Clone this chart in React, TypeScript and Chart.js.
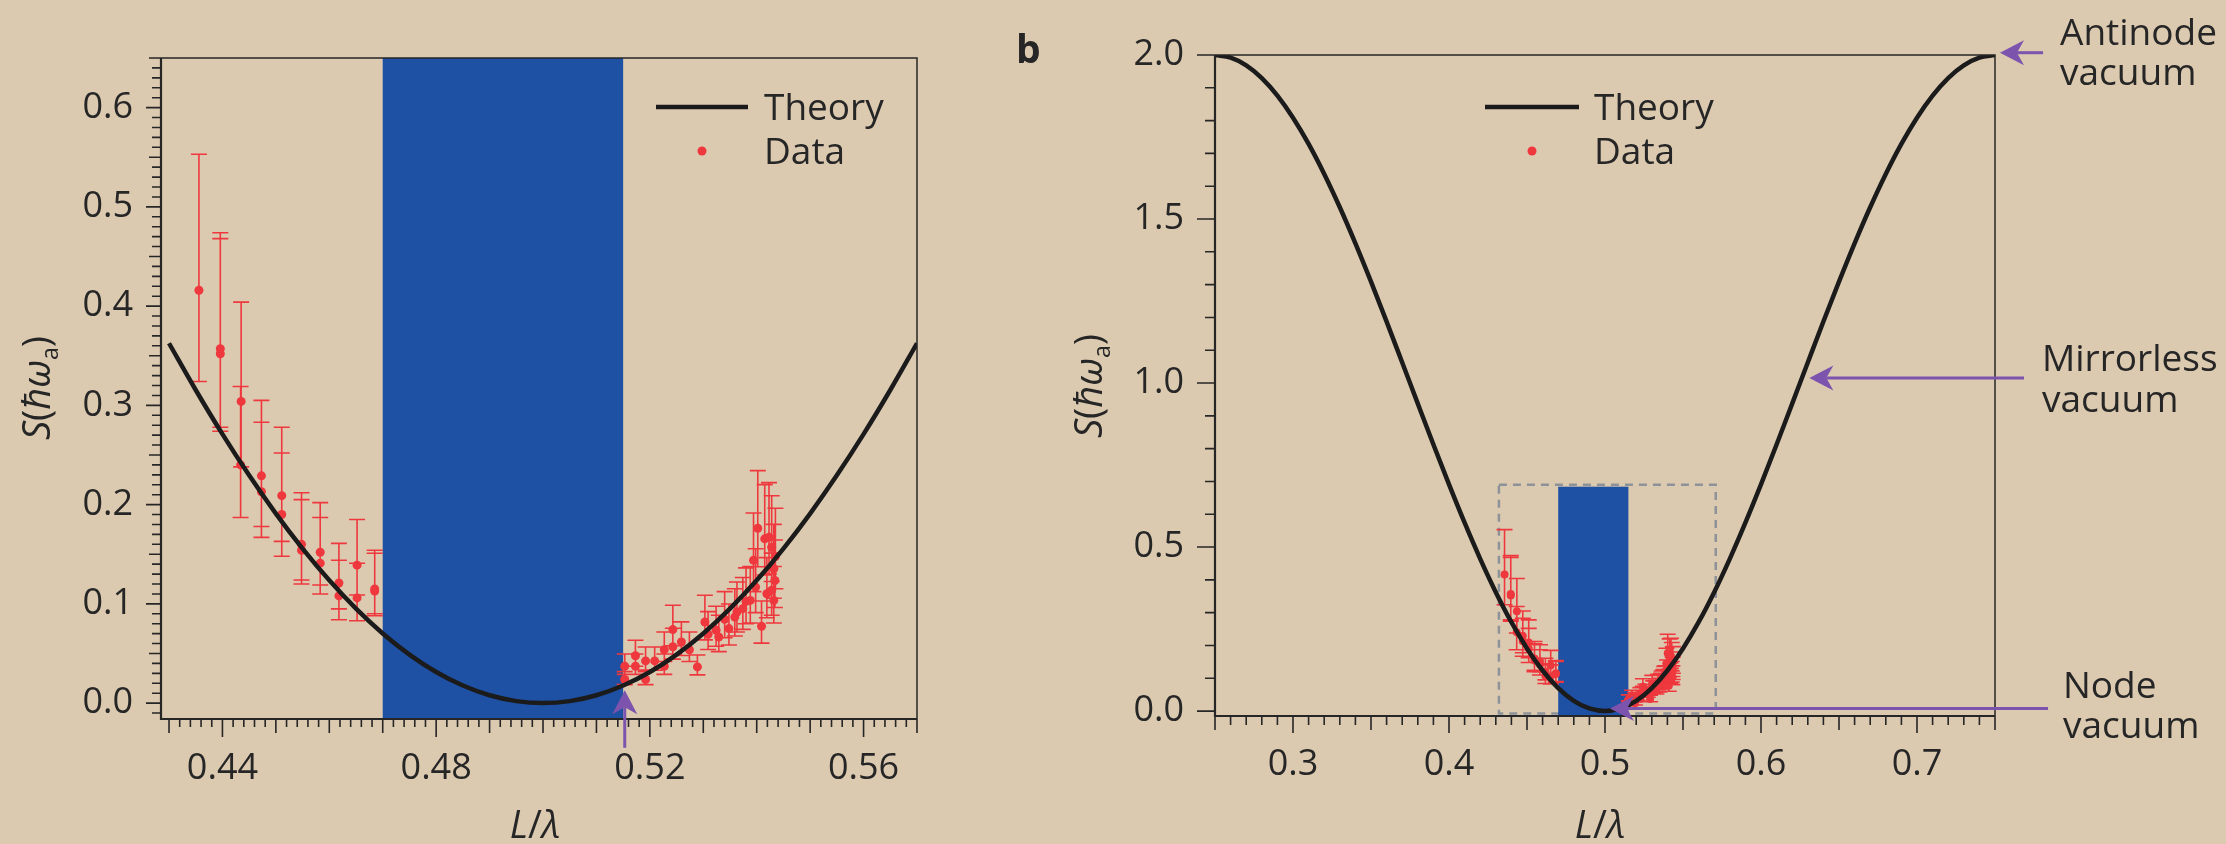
import React, { useEffect, useRef } from "react";
import { Chart, registerables } from "chart.js";

Chart.register(...registerables);

const FONT = '"Open Sans", "Noto Sans", "DejaVu Sans", sans-serif';
const BG = "#dccab0";
const INK = "#262626";
const RED = "#ee383e";
const BLUE = "#1e50a3";
const PURPLE = "#7c53ad";
const DASH_GREY = "#8d9298";

// ---------- axes ----------
const A_X_RANGE = [0.4285, 0.57];
const A_Y_RANGE = [-0.016, 0.65];
const A_X_TICKS = [0.44, 0.48, 0.52, 0.56];
const A_Y_TICKS = [0.0, 0.1, 0.2, 0.3, 0.4, 0.5, 0.6];
const B_X_RANGE = [0.25, 0.75];
const B_Y_RANGE = [-0.015, 2.0];
const B_X_TICKS = [0.3, 0.4, 0.5, 0.6, 0.7];
const B_Y_TICKS = [0.0, 0.5, 1.0, 1.5, 2.0];

// ---------- theory curve ----------
const THEORY_A_X = [0.43, 0.435, 0.44, 0.445, 0.45, 0.455, 0.46, 0.465, 0.47, 0.475, 0.48, 0.485, 0.49, 0.495, 0.5, 0.505, 0.51, 0.515, 0.52, 0.525, 0.53, 0.535, 0.54, 0.545, 0.55, 0.555, 0.56, 0.565, 0.57];
const THEORY_A_Y = [0.3626, 0.3155, 0.271, 0.2295, 0.191, 0.1557, 0.1237, 0.0952, 0.0702, 0.0489, 0.0314, 0.0177, 0.0079, 0.002, 0.0, 0.002, 0.0079, 0.0177, 0.0314, 0.0489, 0.0702, 0.0952, 0.1237, 0.1557, 0.191, 0.2295, 0.271, 0.3155, 0.3626];
const THEORY_B_X = [0.25, 0.26, 0.27, 0.28, 0.29, 0.3, 0.31, 0.32, 0.33, 0.34, 0.35, 0.36, 0.37, 0.38, 0.39, 0.4, 0.41, 0.42, 0.43, 0.44, 0.45, 0.46, 0.47, 0.48, 0.49, 0.5, 0.51, 0.52, 0.53, 0.54, 0.55, 0.56, 0.57, 0.58, 0.59, 0.6, 0.61, 0.62, 0.63, 0.64, 0.65, 0.66, 0.67, 0.68, 0.69, 0.7, 0.71, 0.72, 0.73, 0.74, 0.75];
const THEORY_B_Y = [2.0, 1.9921, 1.9686, 1.9298, 1.8763, 1.809, 1.729, 1.6374, 1.5358, 1.4258, 1.309, 1.1874, 1.0628, 0.9372, 0.8126, 0.691, 0.5742, 0.4642, 0.3626, 0.271, 0.191, 0.1237, 0.0702, 0.0314, 0.0079, 0.0, 0.0079, 0.0314, 0.0702, 0.1237, 0.191, 0.271, 0.3626, 0.4642, 0.5742, 0.691, 0.8126, 0.9372, 1.0628, 1.1874, 1.309, 1.4258, 1.5358, 1.6374, 1.729, 1.809, 1.8763, 1.9298, 1.9686, 1.9921, 2.0];

// ---------- measured data (value, upper and lower error-bar ends) ----------
const DATA_X = [0.4356, 0.4396, 0.4396, 0.4435, 0.4434, 0.4473, 0.4473, 0.4511, 0.4511, 0.4548, 0.4548, 0.4583, 0.4583, 0.4618, 0.4618, 0.4652, 0.4652, 0.4685, 0.4685,
  0.5153, 0.5153, 0.5173, 0.5173, 0.5192, 0.5192, 0.5209, 0.5227, 0.5227, 0.5243, 0.5243, 0.5259, 0.5274, 0.5289, 0.5303, 0.5309, 0.5324, 0.5329, 0.534, 0.5348, 0.5359, 0.5363, 0.5374, 0.538, 0.5388, 0.5394, 0.5398, 0.5402, 0.5409, 0.5415, 0.5423, 0.5419, 0.5428, 0.5432, 0.5434, 0.5428, 0.5435, 0.5432];
const DATA_Y = [0.416, 0.357, 0.352, 0.304, 0.24, 0.229, 0.213, 0.209, 0.19, 0.16, 0.154, 0.152, 0.141, 0.121, 0.108, 0.139, 0.106, 0.115, 0.113,
  0.0372, 0.0238, 0.0477, 0.0372, 0.0425, 0.0238, 0.0425, 0.0538, 0.0372, 0.0741, 0.0568, 0.0616, 0.0538, 0.0365, 0.0817, 0.0693, 0.0734, 0.0666, 0.0844, 0.0751, 0.0867, 0.0918, 0.0952, 0.1025, 0.1035, 0.144, 0.1169, 0.1762, 0.0774, 0.1655, 0.1671, 0.1102, 0.1571, 0.1354, 0.1236, 0.1136, 0.1477, 0.1035];
const DATA_HI = [0.553, 0.474, 0.468, 0.404, 0.319, 0.305, 0.283, 0.278, 0.252, 0.212, 0.205, 0.202, 0.187, 0.161, 0.144, 0.185, 0.141, 0.154, 0.151,
  0.0495, 0.0317, 0.0634, 0.0495, 0.0565, 0.0317, 0.0565, 0.0716, 0.0495, 0.0986, 0.0755, 0.0819, 0.0716, 0.0485, 0.1087, 0.0922, 0.0976, 0.0886, 0.1123, 0.0999, 0.1153, 0.1221, 0.1266, 0.1363, 0.1377, 0.1915, 0.1555, 0.2343, 0.1029, 0.2201, 0.2222, 0.1466, 0.2089, 0.1801, 0.1644, 0.1511, 0.1964, 0.1377];
const DATA_LO = [0.324, 0.278, 0.274, 0.238, 0.187, 0.178, 0.167, 0.163, 0.148, 0.124, 0.12, 0.119, 0.11, 0.095, 0.084, 0.109, 0.083, 0.09, 0.088,
  0.029, 0.0186, 0.0372, 0.029, 0.0332, 0.0186, 0.0332, 0.042, 0.029, 0.0578, 0.0443, 0.048, 0.042, 0.0285, 0.0637, 0.0541, 0.0573, 0.0519, 0.0658, 0.0586, 0.0676, 0.0716, 0.0743, 0.08, 0.0807, 0.1123, 0.0912, 0.1374, 0.0604, 0.1291, 0.1303, 0.086, 0.1225, 0.1056, 0.0964, 0.0886, 0.1152, 0.0807];

// ---------- shaded regions / annotations ----------
const BAND_X = [0.47, 0.515];
const BAND_B_TOP = 0.684;
const ZOOM_BOX_X = [0.432, 0.571];
const ZOOM_BOX_Y = [-0.007, 0.69];
const A_ARROW = { x: 0.5153, tipY: 0.013, tailY: -0.045 };
const B_ARROWS = [
  { lines: ["Antinode", "vacuum"], tip: [0.7532, 2.007], tailX: 0.7808 },
  { lines: ["Mirrorless", "vacuum"], tip: [0.631, 1.015], tailX: 0.7686 },
  { lines: ["Node", "vacuum"], tip: [0.5032, 0.008], tailX: 0.784 },
];

type Part = { t: string; it?: boolean; sub?: boolean };
const Y_TITLE: Part[] = [{ t: "S", it: true }, { t: "(" }, { t: "ħω", it: true }, { t: "a", sub: true }, { t: ")" }];
const X_TITLE: Part[] = [{ t: "L", it: true }, { t: "/" }, { t: "λ", it: true }];

function drawRich(ctx: CanvasRenderingContext2D, parts: Part[], x: number, y: number, size: number) {
  const fonts = parts.map((p) => `${p.it ? "italic " : ""}${p.sub ? Math.round(size * 0.6) : size}px ${FONT}`);
  let w = 0;
  parts.forEach((p, i) => { ctx.font = fonts[i]; w += ctx.measureText(p.t).width; });
  let cx = x - w / 2;
  ctx.textAlign = "left";
  ctx.textBaseline = "alphabetic";
  parts.forEach((p, i) => {
    ctx.font = fonts[i];
    ctx.fillText(p.t, cx, y + (p.sub ? size * 0.2 : 0));
    cx += ctx.measureText(p.t).width;
  });
}

function arrow(ctx: CanvasRenderingContext2D, tx: number, ty: number, sx: number, sy: number) {
  const ang = Math.atan2(ty - sy, tx - sx);
  const L = 24, W = 12.5, N = 17;
  ctx.save();
  ctx.strokeStyle = PURPLE;
  ctx.fillStyle = PURPLE;
  ctx.lineWidth = 3;
  ctx.beginPath();
  ctx.moveTo(sx, sy);
  ctx.lineTo(tx - N * Math.cos(ang), ty - N * Math.sin(ang));
  ctx.stroke();
  ctx.translate(tx, ty);
  ctx.rotate(ang);
  ctx.beginPath();
  ctx.moveTo(0, 0);
  ctx.lineTo(-L, -W);
  ctx.lineTo(-N, 0);
  ctx.lineTo(-L, W);
  ctx.closePath();
  ctx.fill();
  ctx.restore();
}

const near = (a: number, b: number) => Math.abs(a - b) < 1e-6;
const isMult = (v: number, s: number) => Math.abs(v / s - Math.round(v / s)) < 1e-4;
function tickValues(min: number, max: number, step: number) {
  const out: number[] = [];
  const i0 = Math.ceil(min / step - 1e-6), i1 = Math.floor(max / step + 1e-6);
  for (let i = i0; i <= i1; i++) out.push(+(i * step).toFixed(6));
  return out;
}

type TickSpec = { step: number; medium: number; labels: number[]; dec: number; len: [number, number, number] };
type Spec = {
  id: string;
  width: number;
  area: { left: number; top: number; right: number; bottom: number };
  xRange: number[]; yRange: number[];
  xTick: TickSpec; yTick: TickSpec;
  xPad: number; yPad: number;
  theoryX: number[]; theoryY: number[];
  bandTop: number;
  cap: number; radius: number;
  under?: (ctx: CanvasRenderingContext2D, x: any, y: any) => void;
  extras: (ctx: CanvasRenderingContext2D, x: any, y: any, a: any) => void;
};

function axis(range: number[], tick: TickSpec, pad: number, size: number, horizontal: boolean) {
  return {
    type: "linear" as const,
    min: range[0],
    max: range[1],
    grid: { display: false, drawTicks: false },
    border: { display: false },
    ticks: {
      autoSkip: false,
      maxRotation: 0,
      minRotation: 0,
      padding: pad,
      color: INK,
      font: { family: FONT, size: 36 },
      callback: (v: any) => {
        const m = tick.labels.find((l) => near(l, Number(v)));
        return m === undefined ? "" : m.toFixed(tick.dec);
      },
    },
    afterBuildTicks: (s: any) => {
      s.ticks = tickValues(range[0], range[1], tick.step).map((value) => ({ value }));
    },
    afterFit: (s: any) => {
      if (horizontal) s.height = size; else s.width = size;
    },
  };
}

function makePlugin(spec: Spec) {
  return {
    id: "panel" + spec.id,
    beforeDatasetsDraw(chart: any) {
      const { ctx, chartArea: a, scales } = chart;
      const x = scales.x, y = scales.y;
      ctx.save();
      ctx.beginPath();
      ctx.rect(a.left, a.top, a.right - a.left, a.bottom - a.top);
      ctx.clip();
      if (spec.under) spec.under(ctx, x, y);
      const bx0 = x.getPixelForValue(BAND_X[0]);
      const bx1 = x.getPixelForValue(BAND_X[1]);
      const byT = y.getPixelForValue(spec.bandTop);
      const byB = y.getPixelForValue(spec.yRange[0]);
      ctx.fillStyle = BLUE;
      ctx.fillRect(bx0, byT, bx1 - bx0, byB - byT);
      ctx.strokeStyle = RED;
      ctx.lineWidth = 1.6;
      ctx.beginPath();
      DATA_X.forEach((xv, i) => {
        const px = x.getPixelForValue(xv);
        const ph = y.getPixelForValue(DATA_HI[i]);
        const pl = y.getPixelForValue(DATA_LO[i]);
        ctx.moveTo(px, ph); ctx.lineTo(px, pl);
        ctx.moveTo(px - spec.cap, ph); ctx.lineTo(px + spec.cap, ph);
        ctx.moveTo(px - spec.cap, pl); ctx.lineTo(px + spec.cap, pl);
      });
      ctx.stroke();
      ctx.restore();
    },
    afterDraw(chart: any) {
      const { ctx, chartArea: a, scales } = chart;
      const x = scales.x, y = scales.y;
      ctx.save();
      ctx.strokeStyle = INK;
      ctx.lineWidth = 1.5;
      ctx.beginPath();
      ctx.moveTo(a.left, a.top); ctx.lineTo(a.right, a.top); ctx.lineTo(a.right, a.bottom);
      ctx.stroke();
      ctx.lineWidth = 2.2;
      ctx.beginPath();
      ctx.moveTo(a.left, a.top); ctx.lineTo(a.left, a.bottom); ctx.lineTo(a.right, a.bottom);
      ctx.stroke();
      ctx.lineWidth = 1.6;
      ctx.beginPath();
      x.ticks.forEach((t: any) => {
        const v = t.value;
        const len = spec.xTick.labels.some((l) => near(l, v)) ? spec.xTick.len[0] : isMult(v, spec.xTick.medium) ? spec.xTick.len[1] : spec.xTick.len[2];
        const px = x.getPixelForValue(v);
        ctx.moveTo(px, a.bottom); ctx.lineTo(px, a.bottom + len);
      });
      y.ticks.forEach((t: any) => {
        const v = t.value;
        const len = spec.yTick.labels.some((l) => near(l, v)) ? spec.yTick.len[0] : isMult(v, spec.yTick.medium) ? spec.yTick.len[1] : spec.yTick.len[2];
        const py = y.getPixelForValue(v);
        ctx.moveTo(a.left - len, py); ctx.lineTo(a.left, py);
      });
      ctx.stroke();
      ctx.fillStyle = INK;
      spec.extras(ctx, x, y, a);
      ctx.restore();
    },
  };
}

function legend(ctx: CanvasRenderingContext2D, x0: number, x1: number, textX: number, radius: number) {
  ctx.strokeStyle = "#1b1b1b";
  ctx.lineWidth = 4.5;
  ctx.beginPath();
  ctx.moveTo(x0, 107); ctx.lineTo(x1, 107);
  ctx.stroke();
  ctx.fillStyle = RED;
  ctx.beginPath();
  ctx.arc((x0 + x1) / 2, 151, radius, 0, Math.PI * 2);
  ctx.fill();
  ctx.fillStyle = INK;
  ctx.font = `37px ${FONT}`;
  ctx.textAlign = "left";
  ctx.textBaseline = "alphabetic";
  ctx.fillText("Theory", textX, 120);
  ctx.fillText("Data", textX, 164);
}

function yTitle(ctx: CanvasRenderingContext2D, bx: number, cy: number) {
  ctx.save();
  ctx.translate(bx, cy);
  ctx.rotate(-Math.PI / 2);
  ctx.fillStyle = INK;
  drawRich(ctx, Y_TITLE, 0, 0, 38);
  ctx.restore();
}

const SPEC_A: Spec = {
  id: "a",
  width: 1000,
  area: { left: 161, top: 58, right: 917, bottom: 719 },
  xRange: A_X_RANGE, yRange: A_Y_RANGE,
  xTick: { step: 0.002, medium: 0.01, labels: A_X_TICKS, dec: 2, len: [18, 14, 8] },
  yTick: { step: 0.01, medium: 0.05, labels: A_Y_TICKS, dec: 1, len: [15, 12, 9] },
  xPad: 28, yPad: 28,
  theoryX: THEORY_A_X, theoryY: THEORY_A_Y,
  bandTop: A_Y_RANGE[1],
  cap: 8, radius: 4.5,
  extras: (ctx, x, y, a) => {
    legend(ctx, 656, 748, 764, 4.5);
    drawRich(ctx, X_TITLE, (a.left + a.right) / 2 - 4, 838, 38);
    yTitle(ctx, 50, 388);
    arrow(ctx, x.getPixelForValue(A_ARROW.x), y.getPixelForValue(A_ARROW.tipY), x.getPixelForValue(A_ARROW.x), y.getPixelForValue(A_ARROW.tailY));
  },
};

const SPEC_B: Spec = {
  id: "b",
  width: 1226,
  area: { left: 215, top: 55, right: 995, bottom: 716 },
  xRange: B_X_RANGE, yRange: B_Y_RANGE,
  xTick: { step: 0.01, medium: 0.05, labels: B_X_TICKS, dec: 1, len: [17, 14, 9] },
  yTick: { step: 0.1, medium: 0.5, labels: B_Y_TICKS, dec: 1, len: [18, 18, 10] },
  xPad: 27, yPad: 31,
  theoryX: THEORY_B_X, theoryY: THEORY_B_Y,
  bandTop: BAND_B_TOP,
  cap: 8, radius: 4,
  under: (ctx, x, y) => {
    const x0 = x.getPixelForValue(ZOOM_BOX_X[0]), x1 = x.getPixelForValue(ZOOM_BOX_X[1]);
    const y0 = y.getPixelForValue(ZOOM_BOX_Y[0]), y1 = y.getPixelForValue(ZOOM_BOX_Y[1]);
    ctx.save();
    ctx.strokeStyle = DASH_GREY;
    ctx.lineWidth = 2.5;
    ctx.setLineDash([8, 6]);
    ctx.strokeRect(x0, y1, x1 - x0, y0 - y1);
    ctx.restore();
  },
  extras: (ctx, x, y, a) => {
    ctx.font = `bold 39px ${FONT}`;
    ctx.textAlign = "left";
    ctx.textBaseline = "alphabetic";
    ctx.fillText("b", 16, 63);
    legend(ctx, 485, 579, 594, 4.5);
    drawRich(ctx, X_TITLE, (a.left + a.right) / 2 - 5, 838, 38);
    yTitle(ctx, 102, 386);
    const textX = [1060, 1042, 1063];
    B_ARROWS.forEach((ar, i) => {
      const tx = x.getPixelForValue(ar.tip[0]);
      const ty = y.getPixelForValue(ar.tip[1]);
      arrow(ctx, tx, ty, x.getPixelForValue(ar.tailX), ty);
      ctx.fillStyle = INK;
      ctx.font = `37px ${FONT}`;
      ctx.textAlign = "left";
      ctx.textBaseline = "alphabetic";
      const base = [[45, 85], [371, 412], [698, 738]][i];
      ctx.fillText(ar.lines[0], textX[i], base[0]);
      ctx.fillText(ar.lines[1], textX[i], base[1]);
    });
  },
};

function buildChart(canvas: HTMLCanvasElement, spec: Spec) {
  const H = 844;
  return new Chart(canvas, {
    type: "scatter",
    data: {
      datasets: [
        {
          type: "line",
          label: "Theory",
          data: spec.theoryX.map((x, i) => ({ x, y: spec.theoryY[i] })),
          borderColor: "#1b1b1b",
          borderWidth: 4.5,
          pointRadius: 0,
          cubicInterpolationMode: "monotone",
          fill: false,
          order: 0,
        } as any,
        {
          type: "scatter",
          label: "Data",
          data: DATA_X.map((x, i) => ({ x, y: DATA_Y[i] })),
          backgroundColor: RED,
          borderWidth: 0,
          pointRadius: spec.radius,
          order: 1,
        } as any,
      ],
    },
    options: {
      responsive: false,
      animation: false,
      devicePixelRatio: 1,
      events: [],
      layout: { padding: { left: 0, top: spec.area.top, right: spec.width - spec.area.right, bottom: 0 } },
      plugins: { legend: { display: false }, tooltip: { enabled: false } },
      scales: {
        x: axis(spec.xRange, spec.xTick, spec.xPad, H - spec.area.bottom, true),
        y: axis(spec.yRange, spec.yTick, spec.yPad, spec.area.left, false),
      } as any,
    },
    plugins: [makePlugin(spec)],
  });
}

function Panel({ spec, left }: { spec: Spec; left: number }) {
  const ref = useRef<HTMLCanvasElement>(null);
  useEffect(() => {
    const chart = buildChart(ref.current!, spec);
    return () => chart.destroy();
  }, []);
  return (
    <canvas
      ref={ref}
      width={spec.width}
      height={844}
      style={{ position: "absolute", left, top: 0, width: spec.width, height: 844 }}
    />
  );
}

export default function App() {
  return (
    <div style={{ position: "absolute", left: 0, top: 0, width: 2226, height: 844, background: BG, overflow: "hidden" }}>
      <Panel spec={SPEC_A} left={0} />
      <Panel spec={SPEC_B} left={1000} />
    </div>
  );
}
